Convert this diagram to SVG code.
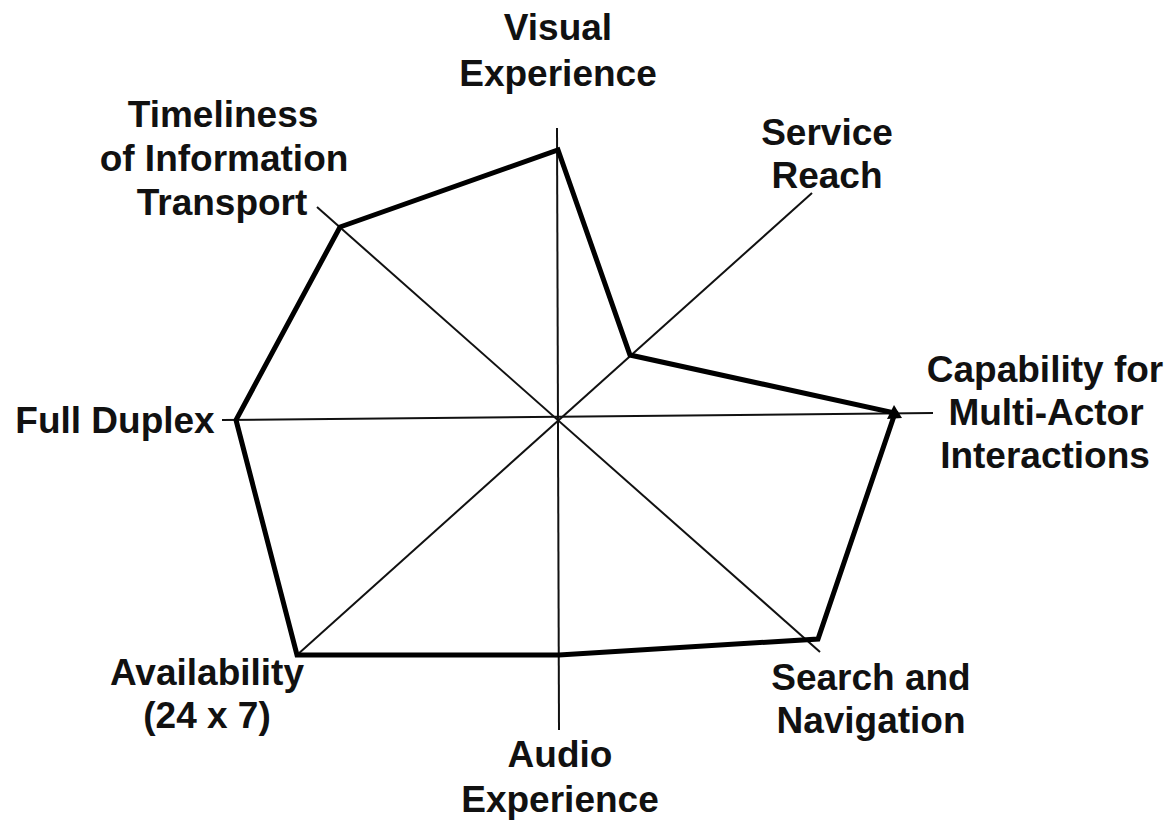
<svg xmlns="http://www.w3.org/2000/svg" width="1170" height="825" viewBox="0 0 1170 825">
  <style>
    .lbl { font-family: "Liberation Sans", Arial, sans-serif; font-weight: bold; font-size: 37px; fill: #111; text-anchor: middle; }
    .axis { stroke: #111; stroke-width: 2; fill: none; }
    .profile { stroke: #000; stroke-width: 5; fill: none; stroke-linejoin: miter; }
  </style>
  <rect width="1170" height="825" fill="#fff"/>
  <g id="connectors">
    <line class="axis" x1="557" y1="128" x2="559" y2="730"/>
    <line class="axis" x1="222" y1="420" x2="933" y2="413"/>
    <line class="axis" x1="297" y1="655" x2="812" y2="193"/>
    <line class="axis" x1="317" y1="207" x2="820" y2="652"/>
  </g>
  <g id="profile">
    <polygon class="profile" points="340,227 558,150 630,355 895,413 818,639 559,655 297,655 236,420"/>
    <polygon points="887,419 894,405 902,418" fill="#000"/>
  </g>
  <g id="visual-experience">
    <text class="lbl" x="558" y="40">Visual</text>
    <text class="lbl" x="558" y="86">Experience</text>
  </g>
  <g id="service-reach">
    <text class="lbl" x="827" y="145">Service</text>
    <text class="lbl" x="827" y="188">Reach</text>
  </g>
  <g id="capability">
    <text class="lbl" x="1045" y="382">Capability for</text>
    <text class="lbl" x="1046" y="425">Multi-Actor</text>
    <text class="lbl" x="1045" y="468">Interactions</text>
  </g>
  <g id="search-navigation">
    <text class="lbl" x="871" y="690">Search and</text>
    <text class="lbl" x="871" y="733">Navigation</text>
  </g>
  <g id="audio-experience">
    <text class="lbl" x="560" y="767">Audio</text>
    <text class="lbl" x="560" y="812">Experience</text>
  </g>
  <g id="availability">
    <text class="lbl" x="207" y="685">Availability</text>
    <text class="lbl" x="207" y="728">(24 x 7)</text>
  </g>
  <g id="full-duplex">
    <text class="lbl" x="115" y="433">Full Duplex</text>
  </g>
  <g id="timeliness">
    <text class="lbl" x="223" y="127">Timeliness</text>
    <text class="lbl" x="224" y="171">of Information</text>
    <text class="lbl" x="222" y="215">Transport</text>
  </g>
</svg>
